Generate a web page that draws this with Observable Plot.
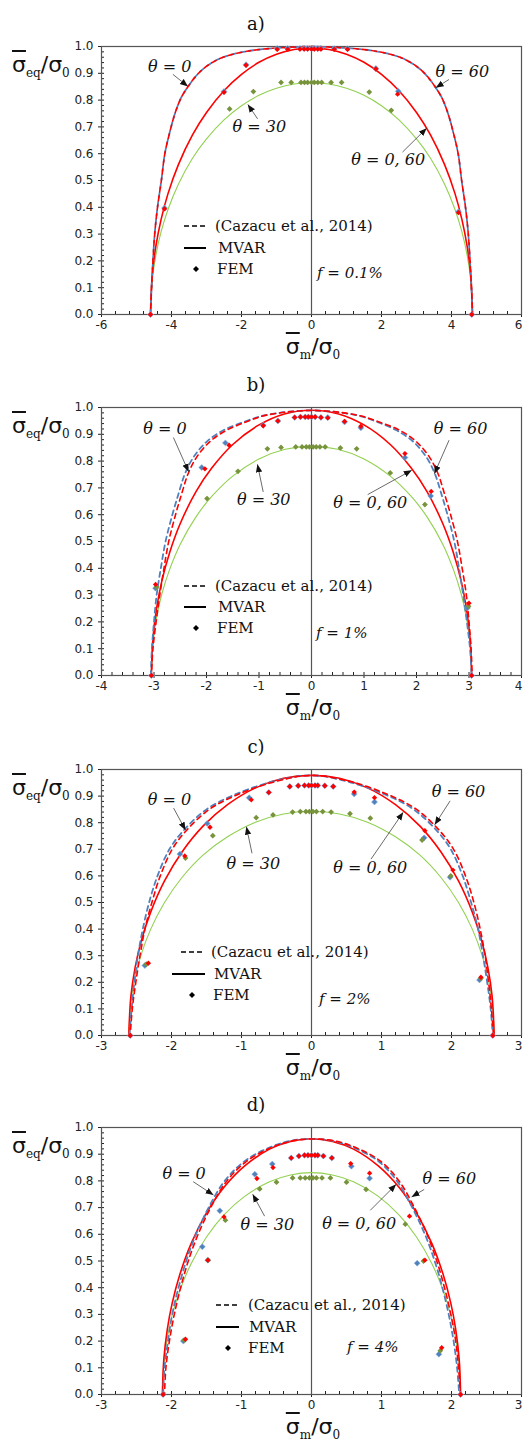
<!DOCTYPE html>
<html><head><meta charset="utf-8">
<script src="https://cdn.jsdelivr.net/npm/d3@7"></script>
<script src="https://cdn.jsdelivr.net/npm/@observablehq/plot@0.6"></script>
<style>
body{margin:0;background:#fff;}
#root{width:523px;}
.panel{position:relative;width:523px;height:360px;}
.ttl{position:absolute;font-family:"DejaVu Serif";font-size:18px;line-height:22px;transform:translateX(-50%);color:#111;white-space:nowrap}
.lbl{position:absolute;font-family:"DejaVu Serif";font-size:15px;line-height:18px;white-space:nowrap;color:#111}
.it{font-style:italic}
.ax{position:absolute;white-space:nowrap;line-height:26px;color:#111}
.sig{font-family:"DejaVu Sans";font-size:22px}
.ov{text-decoration:overline;text-decoration-thickness:2px}
.sub{font-family:"DejaVu Serif";font-size:12px;vertical-align:-5px}
svg.lg{position:absolute;overflow:visible}
</style></head><body><div id="root"></div>
<script>
// ---------- shared ----------
const labelTexts = ["θ = 0", "θ = 60", "θ = 30", "θ = 0, 60"];
const yTicks = [0, 0.1, 0.2, 0.3, 0.4, 0.5, 0.6, 0.7, 0.8, 0.9, 1.0];

// ---------- panel a (f = 0.1%) ----------
const a_xticks = [-6, -4, -2, 0, 2, 4, 6];
const a_dash_x = [-4.60, -4.57, -4.53, -4.48, -4.40, -4.29, -4.19, -4.05, -3.90, -3.72, -3.53, -3.35, -3.15, -2.90, -2.60, -2.25, -1.85, -1.40, -0.90, -0.45, 0, 0.45, 0.90, 1.40, 1.85, 2.25, 2.60, 2.90, 3.15, 3.35, 3.53, 3.72, 3.90, 4.05, 4.19, 4.29, 4.40, 4.48, 4.53, 4.57, 4.60];
const a_dash_y = [0, 0.10, 0.20, 0.30, 0.40, 0.50, 0.60, 0.68, 0.75, 0.81, 0.85, 0.882, 0.910, 0.935, 0.956, 0.971, 0.982, 0.990, 0.995, 0.998, 1.0, 0.998, 0.995, 0.990, 0.982, 0.971, 0.956, 0.935, 0.910, 0.882, 0.85, 0.81, 0.75, 0.68, 0.60, 0.50, 0.40, 0.30, 0.20, 0.10, 0];
const a_mvar_x = [-4.60, -4.55, -4.45, -4.30, -4.10, -3.80, -3.40, -3.00, -2.50, -2.00, -1.50, -1.00, -0.50, 0, 0.50, 1.00, 1.50, 2.00, 2.50, 3.00, 3.40, 3.80, 4.10, 4.30, 4.45, 4.55, 4.60];
const a_mvarR_y = [0, 0.146, 0.252, 0.353, 0.451, 0.560, 0.670, 0.754, 0.835, 0.896, 0.941, 0.971, 0.989, 0.995, 0.989, 0.971, 0.941, 0.896, 0.835, 0.754, 0.670, 0.560, 0.451, 0.353, 0.252, 0.146, 0];
const a_mvarG_y = [0, 0.127, 0.219, 0.307, 0.392, 0.487, 0.583, 0.655, 0.726, 0.779, 0.818, 0.844, 0.860, 0.865, 0.860, 0.844, 0.818, 0.779, 0.726, 0.655, 0.583, 0.487, 0.392, 0.307, 0.219, 0.127, 0];
const a_fem0_x = [-4.60, -4.20, -2.50, -1.87, -0.98, -0.68, -0.33, -0.21, -0.11, 0, 0.08, 0.18, 0.27, 0.65, 1.03, 1.84, 2.48, 4.20, 4.58];
const a_fem0_y = [0, 0.397, 0.832, 0.932, 0.993, 0.993, 0.993, 0.993, 0.993, 0.993, 0.993, 0.993, 0.993, 0.992, 0.992, 0.918, 0.833, 0.383, 0];
const a_fem60_x = [-4.60, -4.20, -2.50, -1.87, -0.98, -0.68, -0.33, -0.21, -0.11, 0, 0.08, 0.18, 0.27, 0.65, 1.03, 1.84, 2.46, 4.20, 4.58];
const a_fem60_y = [0, 0.394, 0.829, 0.930, 0.989, 0.989, 0.990, 0.990, 0.990, 0.990, 0.990, 0.990, 0.990, 0.989, 0.989, 0.916, 0.822, 0.380, 0];
const a_fem30_x = [-2.34, -1.66, -0.87, -0.58, -0.30, -0.20, -0.11, 0, 0.08, 0.18, 0.29, 0.56, 0.86, 1.65, 2.28];
const a_fem30_y = [0.767, 0.832, 0.866, 0.866, 0.866, 0.866, 0.866, 0.866, 0.866, 0.866, 0.866, 0.866, 0.866, 0.830, 0.762];
const a_lab_x = [-4.05, 4.31, -1.49, 2.19];
const a_lab_y = [0.923, 0.905, 0.700, 0.577];
const a_arr_x1 = [-3.96, 3.93, -1.54, 2.60], a_arr_y1 = [0.896, 0.877, 0.730, 0.606];
const a_arr_x2 = [-3.53, 3.55, -1.82, 3.29], a_arr_y2 = [0.851, 0.846, 0.784, 0.695];

// ---------- panel b (f = 1%) ----------
const b_xticks = [-4, -3, -2, -1, 0, 1, 2, 3, 4];
const b_dash0_x = [-3.06, -3.04, -3.00, -2.95, -2.87, -2.78, -2.65, -2.53, -2.41, -2.25, -2.00, -1.68, -1.29, -0.97, -0.65, -0.33, -0.01, 0.31, 0.63, 0.95, 1.25, 1.62, 1.94, 2.19, 2.35, 2.47, 2.59, 2.72, 2.81, 2.89, 2.96, 3.02, 3.05];
const b_dash60_x = [-3.05, -3.02, -2.96, -2.89, -2.81, -2.72, -2.59, -2.47, -2.35, -2.19, -1.94, -1.62, -1.25, -0.95, -0.63, -0.31, 0.01, 0.33, 0.65, 0.97, 1.29, 1.68, 2.00, 2.25, 2.41, 2.53, 2.65, 2.78, 2.87, 2.95, 3.00, 3.04, 3.06];
const b_dash_y = [0, 0.10, 0.20, 0.30, 0.40, 0.50, 0.60, 0.68, 0.753, 0.814, 0.872, 0.915, 0.946, 0.967, 0.979, 0.986, 0.989, 0.986, 0.979, 0.967, 0.946, 0.915, 0.872, 0.814, 0.753, 0.68, 0.60, 0.50, 0.40, 0.30, 0.20, 0.10, 0];
const b_mvar_x = [-3.05, -3.02, -2.95, -2.85, -2.70, -2.50, -2.20, -1.90, -1.50, -1.00, -0.50, 0, 0.50, 1.00, 1.50, 1.90, 2.20, 2.50, 2.70, 2.85, 2.95, 3.02, 3.05];
const b_mvarR_y = [0, 0.139, 0.251, 0.353, 0.460, 0.567, 0.686, 0.774, 0.862, 0.935, 0.977, 0.990, 0.977, 0.935, 0.862, 0.774, 0.686, 0.567, 0.460, 0.353, 0.251, 0.139, 0];
const b_mvarG_y = [0, 0.120, 0.217, 0.305, 0.397, 0.490, 0.592, 0.668, 0.744, 0.808, 0.844, 0.855, 0.844, 0.808, 0.744, 0.668, 0.592, 0.490, 0.397, 0.305, 0.217, 0.120, 0];
const b_fem0_x = [-3.05, -2.97, -2.09, -1.64, -0.92, -0.64, -0.32, -0.21, -0.12, -0.06, 0, 0.07, 0.18, 0.31, 0.63, 0.94, 1.78, 2.27, 2.97, 3.05];
const b_fem0_y = [0, 0.326, 0.776, 0.868, 0.934, 0.950, 0.963, 0.965, 0.965, 0.965, 0.965, 0.965, 0.963, 0.963, 0.946, 0.924, 0.813, 0.670, 0.252, 0];
const b_fem60_x = [-3.05, -2.97, -2.03, -1.57, -0.92, -0.64, -0.32, -0.21, -0.12, -0.06, 0, 0.07, 0.18, 0.31, 0.63, 0.94, 1.78, 2.28, 3.00, 3.05];
const b_fem60_y = [0, 0.340, 0.771, 0.859, 0.932, 0.950, 0.963, 0.965, 0.965, 0.965, 0.965, 0.965, 0.963, 0.961, 0.948, 0.930, 0.828, 0.687, 0.270, 0];
const b_fem30_x = [-2.95, -1.99, -1.40, -0.84, -0.58, -0.30, -0.18, -0.10, -0.04, 0.03, 0.09, 0.16, 0.26, 0.55, 0.86, 1.50, 2.16, 2.99];
const b_fem30_y = [0.330, 0.660, 0.762, 0.846, 0.851, 0.853, 0.853, 0.853, 0.853, 0.853, 0.853, 0.853, 0.853, 0.849, 0.846, 0.756, 0.638, 0.258];
const b_lab_x = [-2.79, 2.84, -0.91, 1.12];
const b_lab_y = [0.921, 0.921, 0.654, 0.644];
const b_arr_x1 = [-2.63, 2.62, -0.92, 1.07], b_arr_y1 = [0.888, 0.878, 0.685, 0.675];
const b_arr_x2 = [-2.34, 2.34, -1.03, 1.91], b_arr_y2 = [0.760, 0.753, 0.788, 0.766];

// ---------- panel c (f = 2%) ----------
const c_xticks = [-3, -2, -1, 0, 1, 2, 3];
const c_dash0_x = [-2.60, -2.57, -2.53, -2.48, -2.41, -2.32, -2.20, -2.03, -1.83, -1.50, -1.10, -0.55, -0.01, 0.51, 1.06, 1.46, 1.79, 1.99, 2.16, 2.28, 2.38, 2.45, 2.51, 2.56, 2.59];
const c_dash60_x = [-2.59, -2.56, -2.51, -2.45, -2.38, -2.28, -2.16, -1.99, -1.79, -1.46, -1.06, -0.51, 0.01, 0.55, 1.10, 1.50, 1.83, 2.03, 2.20, 2.32, 2.41, 2.48, 2.53, 2.57, 2.60];
const c_dash_y = [0, 0.10, 0.20, 0.30, 0.40, 0.50, 0.60, 0.70, 0.77, 0.85, 0.905, 0.955, 0.978, 0.955, 0.905, 0.85, 0.77, 0.70, 0.60, 0.50, 0.40, 0.30, 0.20, 0.10, 0];
const c_mvar_x = [-2.61, -2.58, -2.52, -2.43, -2.30, -2.10, -1.85, -1.55, -1.20, -0.80, -0.40, 0, 0.40, 0.80, 1.20, 1.55, 1.85, 2.10, 2.30, 2.43, 2.52, 2.58, 2.61];
const c_mvarR_y = [0, 0.148, 0.255, 0.357, 0.462, 0.581, 0.690, 0.787, 0.868, 0.931, 0.967, 0.978, 0.967, 0.931, 0.868, 0.787, 0.690, 0.581, 0.462, 0.357, 0.255, 0.148, 0];
const c_mvarG_y = [0, 0.127, 0.219, 0.307, 0.398, 0.500, 0.594, 0.678, 0.747, 0.802, 0.833, 0.842, 0.833, 0.802, 0.747, 0.678, 0.594, 0.500, 0.398, 0.307, 0.219, 0.127, 0];
const c_fem0_x = [-2.59, -2.38, -1.88, -1.49, -0.89, -0.61, -0.31, -0.19, -0.10, -0.04, 0, 0.05, 0.09, 0.19, 0.31, 0.61, 0.90, 1.61, 1.98, 2.40, 2.59];
const c_fem0_y = [0, 0.263, 0.682, 0.797, 0.894, 0.914, 0.936, 0.939, 0.940, 0.940, 0.940, 0.940, 0.940, 0.939, 0.936, 0.908, 0.878, 0.743, 0.595, 0.209, 0];
const c_fem60_x = [-2.59, -2.33, -1.81, -1.45, -0.86, -0.61, -0.31, -0.19, -0.10, -0.04, 0, 0.05, 0.09, 0.19, 0.31, 0.61, 0.90, 1.62, 2.02, 2.42, 2.59];
const c_fem60_y = [0, 0.272, 0.675, 0.783, 0.886, 0.914, 0.936, 0.939, 0.940, 0.940, 0.940, 0.940, 0.940, 0.939, 0.936, 0.915, 0.894, 0.770, 0.622, 0.219, 0];
const c_fem30_x = [-2.36, -1.80, -1.41, -0.79, -0.55, -0.27, -0.16, -0.08, -0.03, 0.02, 0.07, 0.16, 0.28, 0.55, 0.84, 1.58, 1.99, 2.42];
const c_fem30_y = [0.268, 0.667, 0.751, 0.819, 0.829, 0.840, 0.842, 0.842, 0.842, 0.842, 0.842, 0.842, 0.840, 0.834, 0.817, 0.735, 0.600, 0.215];
const c_lab_x = [-2.03, 2.10, -0.83, 0.84];
const c_lab_y = [0.885, 0.917, 0.647, 0.632];
const c_arr_x1 = [-1.97, 1.98, -0.85, 0.85], c_arr_y1 = [0.855, 0.882, 0.685, 0.663];
const c_arr_x2 = [-1.80, 1.76, -0.93, 1.31], c_arr_y2 = [0.772, 0.792, 0.785, 0.839];

// ---------- panel d (f = 4%) ----------
const d_xticks = [-3, -2, -1, 0, 1, 2, 3];
const d_dash0_x = [-2.12, -2.10, -2.05, -1.99, -1.90, -1.79, -1.65, -1.47, -1.24, -0.95, -0.60, -0.30, 0, 0.30, 0.60, 0.95, 1.22, 1.44, 1.62, 1.76, 1.87, 1.96, 2.03, 2.08, 2.11];
const d_dash60_x = [-2.10, -2.08, -2.03, -1.96, -1.87, -1.76, -1.62, -1.44, -1.21, -0.92, -0.57, -0.27, 0.03, 0.33, 0.63, 0.98, 1.25, 1.47, 1.65, 1.79, 1.90, 1.99, 2.06, 2.10, 2.13];
const d_dash_y = [0, 0.10, 0.20, 0.30, 0.40, 0.50, 0.60, 0.70, 0.80, 0.875, 0.925, 0.950, 0.957, 0.950, 0.925, 0.875, 0.80, 0.70, 0.60, 0.50, 0.40, 0.30, 0.20, 0.10, 0];
const d_mvar_x = [-2.13, -2.11, -2.06, -1.99, -1.88, -1.72, -1.50, -1.25, -0.95, -0.60, -0.30, 0, 0.30, 0.60, 0.95, 1.25, 1.50, 1.72, 1.88, 1.99, 2.06, 2.11, 2.13];
const d_mvarR_y = [0, 0.131, 0.244, 0.342, 0.450, 0.565, 0.680, 0.776, 0.857, 0.919, 0.948, 0.958, 0.948, 0.919, 0.857, 0.776, 0.680, 0.565, 0.450, 0.342, 0.244, 0.131, 0];
const d_mvarG_y = [0, 0.114, 0.212, 0.297, 0.390, 0.490, 0.590, 0.673, 0.743, 0.797, 0.822, 0.831, 0.822, 0.797, 0.743, 0.673, 0.590, 0.490, 0.390, 0.297, 0.212, 0.114, 0];
const d_fem0_x = [-2.12, -1.83, -1.56, -1.48, -1.31, -0.81, -0.56, -0.29, -0.18, -0.10, -0.05, 0, 0.05, 0.09, 0.17, 0.29, 0.57, 0.83, 1.51, 1.82, 2.13];
const d_fem0_y = [0, 0.200, 0.553, 0.503, 0.688, 0.825, 0.863, 0.886, 0.893, 0.896, 0.896, 0.896, 0.896, 0.896, 0.893, 0.886, 0.855, 0.810, 0.492, 0.151, 0];
const d_fem60_x = [-2.12, -1.80, -1.48, -1.25, -0.78, -0.55, -0.29, -0.18, -0.10, -0.05, 0, 0.05, 0.09, 0.17, 0.29, 0.56, 0.83, 1.40, 1.62, 1.86, 2.13];
const d_fem60_y = [0, 0.207, 0.503, 0.665, 0.809, 0.850, 0.886, 0.893, 0.896, 0.896, 0.896, 0.896, 0.896, 0.893, 0.886, 0.865, 0.829, 0.668, 0.503, 0.175, 0];
const d_fem30_x = [-1.82, -1.48, -1.23, -0.74, -0.50, -0.27, -0.16, -0.09, -0.03, 0.02, 0.07, 0.15, 0.27, 0.50, 0.78, 1.34, 1.60, 1.84];
const d_fem30_y = [0.204, 0.503, 0.653, 0.770, 0.795, 0.811, 0.811, 0.811, 0.811, 0.811, 0.811, 0.811, 0.811, 0.795, 0.768, 0.638, 0.500, 0.164];
const d_lab_x = [-1.82, 1.97, -0.63, 0.68];
const d_lab_y = [0.825, 0.809, 0.634, 0.640];
const d_arr_x1 = [-1.69, 1.61, -0.67, 0.84], d_arr_y1 = [0.797, 0.768, 0.668, 0.690];
const d_arr_x2 = [-1.40, 1.43, -0.84, 1.21], d_arr_y2 = [0.747, 0.740, 0.750, 0.787];

// ---------- helpers ----------
const zip = (xs, ys) => xs.map((x, i) => ({x, y: ys[i]}));
const labs = (xs, ys) => xs.map((x, i) => ({x, y: ys[i], text: labelTexts[i]}));
const arrs = (x1, y1, x2, y2) => x1.map((v, i) => ({x1: v, y1: y1[i], x2: x2[i], y2: y2[i]}));

const panels = [
  {title: "a)", f: "f = 0.1%", xd: [-6, 6], xt: a_xticks, minor: 0.4, mt: 46, mb: 46,
   dash0: zip(a_dash_x, a_dash_y), dash60: zip(a_dash_x, a_dash_y),
   mR: zip(a_mvar_x, a_mvarR_y), mG: zip(a_mvar_x, a_mvarG_y),
   f0: zip(a_fem0_x, a_fem0_y), f60: zip(a_fem60_x, a_fem60_y), f30: zip(a_fem30_x, a_fem30_y),
   lab: labs(a_lab_x, a_lab_y), arr: arrs(a_arr_x1, a_arr_y1, a_arr_x2, a_arr_y2),
   lg: {dash: [184, 208, 226], dashT: 215, mvar: [184, 206, 248], mvarT: 218, fem: [196, 269], femT: 217, f: [317, 273]}},
  {title: "b)", f: "f = 1%", xd: [-4, 4], xt: b_xticks, minor: 0.2, mt: 47, mb: 45,
   dash0: zip(b_dash0_x, b_dash_y), dash60: zip(b_dash60_x, b_dash_y),
   mR: zip(b_mvar_x, b_mvarR_y), mG: zip(b_mvar_x, b_mvarG_y),
   f0: zip(b_fem0_x, b_fem0_y), f60: zip(b_fem60_x, b_fem60_y), f30: zip(b_fem30_x, b_fem30_y),
   lab: labs(b_lab_x, b_lab_y), arr: arrs(b_arr_x1, b_arr_y1, b_arr_x2, b_arr_y2),
   lg: {dash: [184, 208, 226], dashT: 215, mvar: [184, 206, 247], mvarT: 218, fem: [196, 268], femT: 217, f: [316, 273]}},
  {title: "c)", f: "f = 2%", xd: [-3, 3], xt: c_xticks, minor: 0.2, mt: 49, mb: 45,
   dash0: zip(c_dash0_x, c_dash_y), dash60: zip(c_dash60_x, c_dash_y),
   mR: zip(c_mvar_x, c_mvarR_y), mG: zip(c_mvar_x, c_mvarG_y),
   f0: zip(c_fem0_x, c_fem0_y), f60: zip(c_fem60_x, c_fem60_y), f30: zip(c_fem30_x, c_fem30_y),
   lab: labs(c_lab_x, c_lab_y), arr: arrs(c_arr_x1, c_arr_y1, c_arr_x2, c_arr_y2),
   lg: {dash: [181, 205, 232], dashT: 211, mvar: [172, 205, 254], mvarT: 214, fem: [192, 275], femT: 213, f: [319, 279]}},
  {title: "d)", f: "f = 4%", xd: [-3, 3], xt: d_xticks, minor: 0.2, mt: 47, mb: 46,
   dash0: zip(d_dash0_x, d_dash_y), dash60: zip(d_dash60_x, d_dash_y),
   mR: zip(d_mvar_x, d_mvarR_y), mG: zip(d_mvar_x, d_mvarG_y),
   f0: zip(d_fem0_x, d_fem0_y), f60: zip(d_fem60_x, d_fem60_y), f30: zip(d_fem30_x, d_fem30_y),
   lab: labs(d_lab_x, d_lab_y), arr: arrs(d_arr_x1, d_arr_y1, d_arr_x2, d_arr_y2),
   lg: {dash: [216, 239, 225], dashT: 248, mvar: [216, 239, 247], mvarT: 249, fem: [228, 268], femT: 248, f: [347, 267]}}
];

const W = 523, H = 360, ML = 101, MR = 2;
const BLUE = "#4f81bd", RED = "#ff0000", GREEN_L = "#92d050", GREEN_P = "#77933c", AX = "#555";
const root = document.getElementById("root");

for (const P of panels) {
  const div = document.createElement("div");
  div.className = "panel";
  root.appendChild(div);
  const innerH = H - P.mt - P.mb, innerW = W - ML - MR;
  const xMinor = d3.range(P.xd[0], P.xd[1] + 1e-9, P.minor);
  const yMinor = d3.range(0, 1.0001, 0.02);
  const chart = Plot.plot({
    width: W, height: H,
    marginTop: P.mt, marginBottom: P.mb, marginLeft: ML, marginRight: MR,
    style: {fontFamily: "DejaVu Sans", fontSize: "12px", color: "#222", background: "transparent", overflow: "visible"},
    x: {domain: P.xd, ticks: P.xt, tickFormat: d => String(d), tickSize: 3, tickPadding: 3, label: null},
    y: {domain: [0, 1], ticks: yTicks, tickFormat: d => d.toFixed(1), tickSize: 3, tickPadding: 5, label: null},
    marks: [
      Plot.ruleX(xMinor, {stroke: "#222", strokeWidth: 1, insetTop: innerH - 3}),
      Plot.ruleY(yMinor, {stroke: "#222", strokeWidth: 1, insetRight: innerW - 3}),
      Plot.ruleX([0], {stroke: AX, strokeWidth: 1.2}),
      Plot.frame({stroke: AX, strokeWidth: 1.2}),
      Plot.line(P.mG, {x: "x", y: "y", stroke: GREEN_L, strokeWidth: 1.1, curve: "catmull-rom"}),
      Plot.line(P.mR, {x: "x", y: "y", stroke: RED, strokeWidth: 1.6, curve: "catmull-rom"}),
      Plot.line(P.dash0, {x: "x", y: "y", stroke: BLUE, strokeWidth: 1.8, strokeDasharray: "5,4", curve: "catmull-rom"}),
      Plot.line(P.dash60, {x: "x", y: "y", stroke: RED, strokeWidth: 1.6, strokeDasharray: "5,4", strokeDashoffset: 3, curve: "catmull-rom"}),
      Plot.dot(P.f0, {x: "x", y: "y", symbol: "diamond2", r: 2.7, fill: BLUE, stroke: "#8fb3de", strokeWidth: 0.6}),
      Plot.dot(P.f30, {x: "x", y: "y", symbol: "diamond2", r: 2.6, fill: GREEN_P}),
      Plot.dot(P.f60, {x: "x", y: "y", symbol: "diamond2", r: 2.4, fill: RED}),
      Plot.link(P.arr, {x1: "x1", y1: "y1", x2: "x2", y2: "y2", stroke: "#444", strokeWidth: 0.8, markerEnd: "arrow"}),
      Plot.text(P.lab, {x: "x", y: "y", text: "text", fontFamily: "DejaVu Serif", fontStyle: "italic", fontSize: 16, fill: "#111"})
    ]
  });
  chart.style.position = "absolute";
  chart.style.left = "0px";
  chart.style.top = "0px";
  chart.querySelectorAll("marker").forEach(m => {
    m.setAttribute("viewBox", "-8 -4 8 8");
    m.setAttribute("markerWidth", "8");
    m.setAttribute("markerHeight", "8");
    m.setAttribute("markerUnits", "userSpaceOnUse");
    m.setAttribute("fill", "#111");
    m.setAttribute("stroke", "none");
    const p = m.querySelector("path");
    if (p) p.setAttribute("d", "M-8,-3.2L0,0L-8,3.2Z");
  });
  // keep the last x tick label inside the picture
  const xt = chart.querySelectorAll('[aria-label^="x-axis"] text');
  if (xt.length) {
    const last = xt[xt.length - 1];
    last.setAttribute("text-anchor", "end");
    last.setAttribute("dx", "1");
  }
  div.appendChild(chart);

  const L = P.lg;
  const frameB = H - P.mb;
  const html = [];
  html.push(`<div class="ttl" style="left:256px;top:${P.mt - 33}px">${P.title}</div>`);
  html.push(`<div class="ax" style="left:12px;top:${P.mt + 6}px"><span class="sig ov">σ</span><span class="sub">eq</span><span class="sig">/σ</span><span class="sub">0</span></div>`);
  html.push(`<div class="ax" style="left:313px;top:${frameB + 20}px;transform:translateX(-50%)"><span class="sig ov">σ</span><span class="sub">m</span><span class="sig">/σ</span><span class="sub">0</span></div>`);
  const dw = L.dash[1] - L.dash[0], mw = L.mvar[1] - L.mvar[0];
  html.push(`<svg class="lg" style="left:${L.dash[0]}px;top:${L.dash[2] - 2}px" width="${dw}" height="4"><line x1="0" y1="2" x2="${dw}" y2="2" stroke="#000" stroke-width="1.6" stroke-dasharray="5,3"/></svg>`);
  html.push(`<div class="lbl" style="left:${L.dashT}px;top:${L.dash[2] - 9}px">(Cazacu et al., 2014)</div>`);
  html.push(`<svg class="lg" style="left:${L.mvar[0]}px;top:${L.mvar[2] - 2}px" width="${mw}" height="4"><line x1="0" y1="2" x2="${mw}" y2="2" stroke="#000" stroke-width="2"/></svg>`);
  html.push(`<div class="lbl" style="left:${L.mvarT}px;top:${L.mvar[2] - 9}px">MVAR</div>`);
  html.push(`<svg class="lg" style="left:${L.fem[0] - 3}px;top:${L.fem[1] - 3}px" width="6" height="6"><path d="M3,0L6,3L3,6L0,3Z" fill="#000"/></svg>`);
  html.push(`<div class="lbl" style="left:${L.femT}px;top:${L.fem[1] - 9}px">FEM</div>`);
  html.push(`<div class="lbl it" style="left:${L.f[0]}px;top:${L.f[1] - 9}px">${P.f}</div>`);
  div.insertAdjacentHTML("beforeend", html.join(""));
}
</script></body></html>
